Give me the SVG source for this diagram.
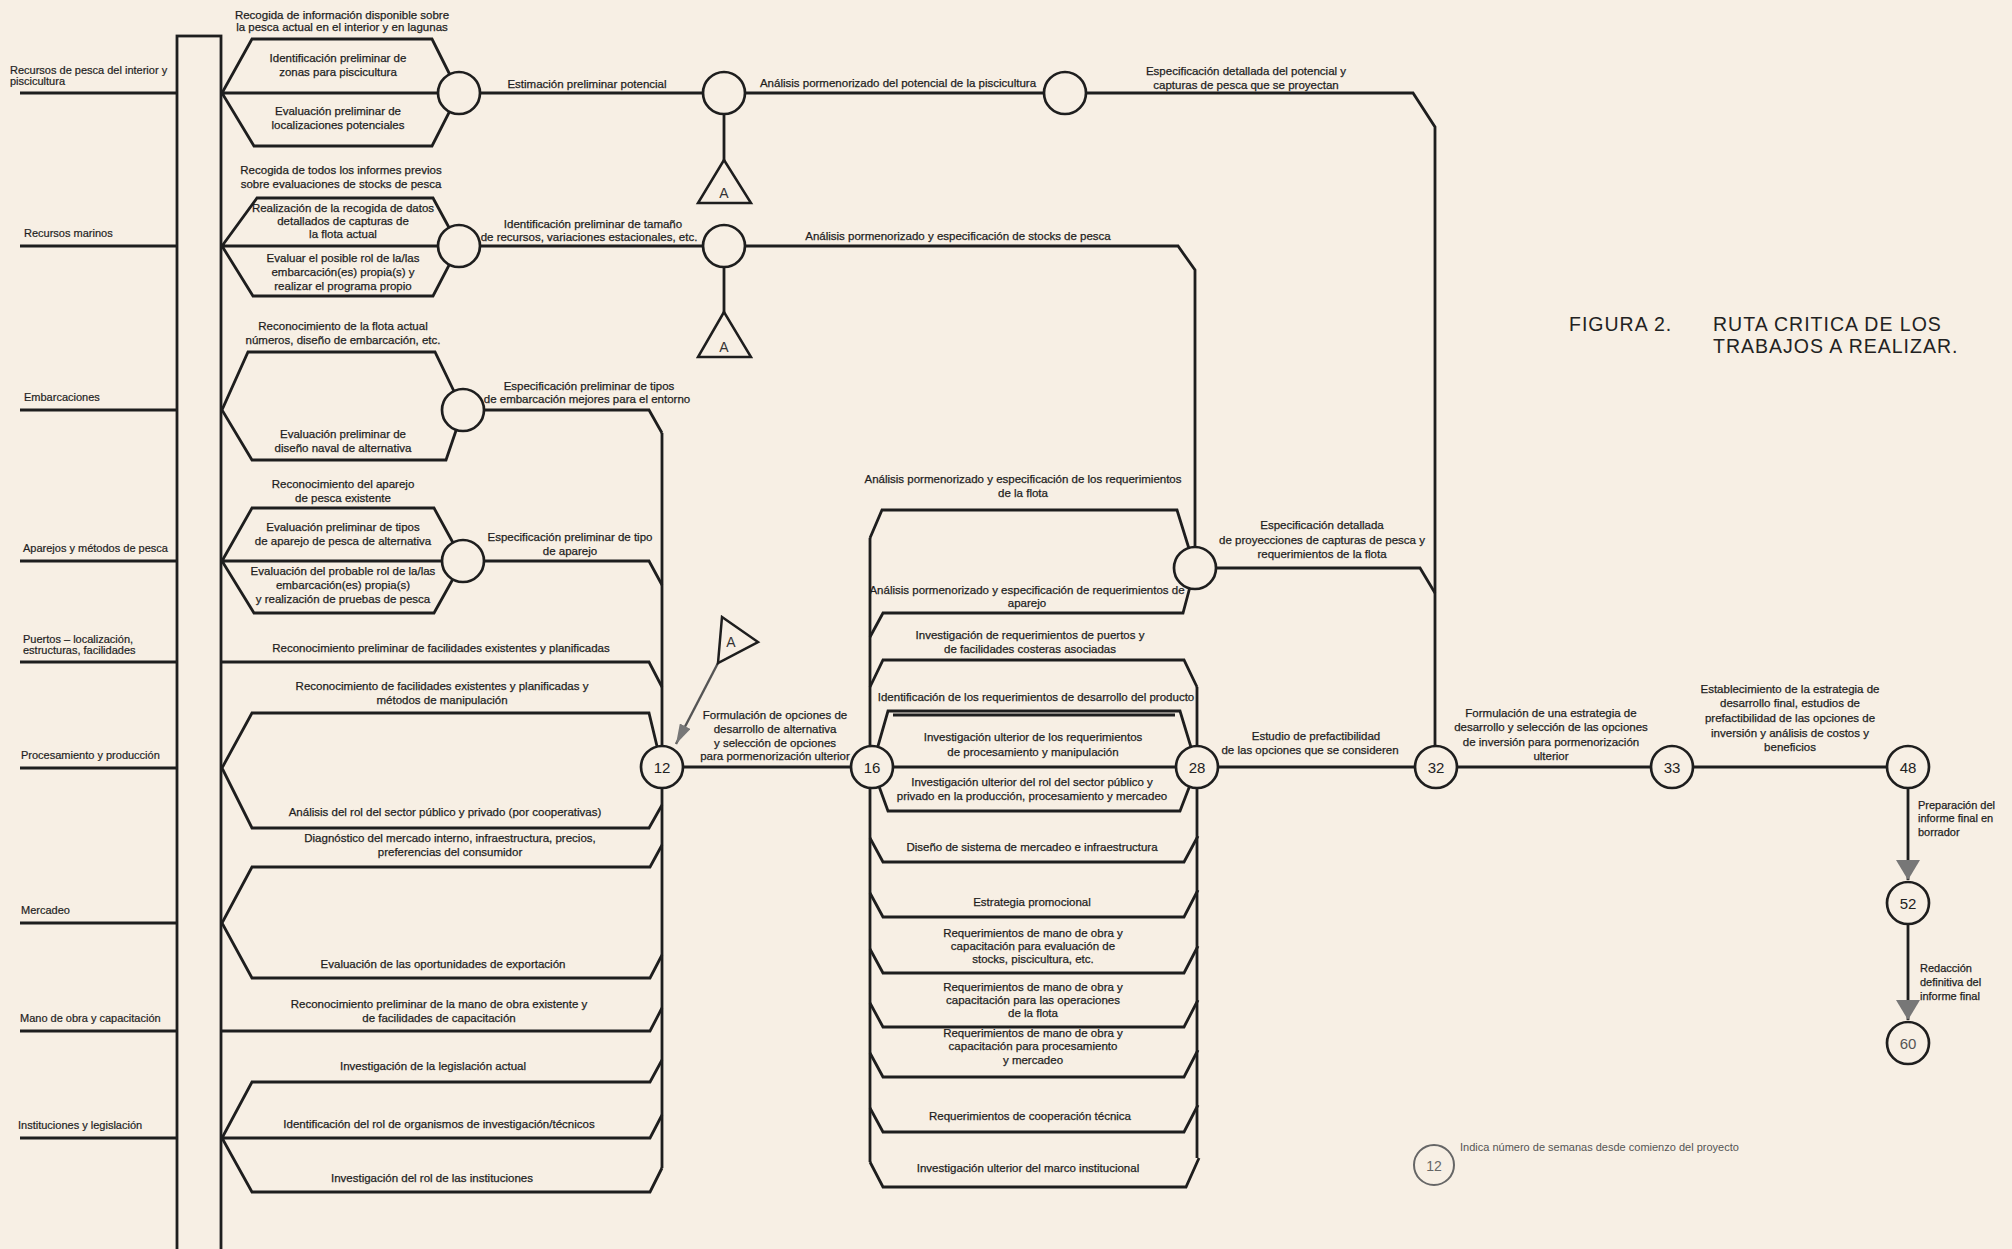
<svg xmlns="http://www.w3.org/2000/svg" width="2012" height="1249" viewBox="0 0 2012 1249">
<style>
.ln{fill:none;stroke:#1e1e1e;stroke-width:2.8;stroke-linejoin:miter}
.ev{fill:#f7efe4;stroke:#1e1e1e;stroke-width:2.7}
.tri{fill:#f7efe4;stroke:#1e1e1e;stroke-width:2.5}
.t{font-family:"Liberation Sans",Arial,sans-serif;font-size:11.5px;fill:#1e1e1e;stroke:#1e1e1e;stroke-width:0.25;text-anchor:middle}
.c{font-family:"Liberation Sans",Arial,sans-serif;font-size:11px;fill:#1e1e1e;stroke:#1e1e1e;stroke-width:0.2}
.s{font-family:"Liberation Sans",Arial,sans-serif;font-size:11px;fill:#1e1e1e;stroke:#1e1e1e;stroke-width:0.25}
.n{font-family:"Liberation Sans",Arial,sans-serif;font-size:15px;fill:#222;text-anchor:middle}
.a{font-family:"Liberation Sans",Arial,sans-serif;font-size:14px;fill:#333;text-anchor:middle}
.ttl{font-family:"Liberation Sans",Arial,sans-serif;font-size:19.5px;fill:#222;letter-spacing:1px}
.lg{font-family:"Liberation Sans",Arial,sans-serif;font-size:11px;fill:#555}
</style>
<defs>
<marker id="ah" markerUnits="userSpaceOnUse" viewBox="0 0 20 24" refX="20" refY="12" markerWidth="20" markerHeight="24" orient="auto"><path d="M0,0 L20,12 L0,24 Z" fill="#777"/></marker>
<marker id="ahs" markerUnits="userSpaceOnUse" viewBox="0 0 20 12" refX="20" refY="6" markerWidth="20" markerHeight="12" orient="auto"><path d="M0,0 L20,6 L0,12 Z" fill="#777"/></marker>
</defs>
<rect x="0" y="0" width="2012" height="1249" fill="#f7efe4"/>

<g id="connectors">
<path class="ln" d="M20,93 H177 M20,246 H177 M20,410 H177 M20,561 H177 M20,662 H177 M20,768 H177 M20,923 H177 M20,1031 H177 M20,1138 H177"/>
<path class="ln" d="M459,93 L432,39 L252,39 L222,93 L254,146 L432,146 Z M222,93 H459"/>
<path class="ln" d="M459,246 L433,198 L257,198 L222,246 L253,296 L433,296 Z M222,246 H459"/>
<path class="ln" d="M463,410 L435,352 L248,352 L222,410 L252,460 L446,460 Z"/>
<path class="ln" d="M463,561 L434,508 L252,508 L222,561 L254,613 L434,613 Z M222,561 H463"/>
<path class="ln" d="M222,662 H649 L662,687"/>
<path class="ln" d="M662,767 L649,713 L252,713 L222,768 L252,828 L649,828 L662,805"/>
<path class="ln" d="M662,845 L650,867 L252,867 L222,923 L252,978 L650,978 L662,955"/>
<path class="ln" d="M222,1031 H650 L662,1008"/>
<path class="ln" d="M662,1060 L650,1082 L252,1082 L222,1138 L252,1192 L650,1192 L662,1168 M222,1138 H650 L662,1115"/>
<path class="ln" d="M662,433 V1168"/>
<path class="ln" d="M463,410 H649 L662,433"/>
<path class="ln" d="M463,561 H649 L662,585"/>
<path class="ln" d="M459,93 H1413 L1435,127 V767"/>
<path class="ln" d="M459,246 H1178 L1195,270 V568"/>
<path class="ln" d="M724,93 V162 M724,246 V314"/>
<path class="ln" d="M1195,568 H1420 L1435,593"/>
<path class="ln" d="M662,767 H1908"/>
<path class="ln" d="M1908,788 V880" marker-end="url(#ah)"/>
<path class="ln" d="M1908,924 V1020" marker-end="url(#ah)"/>
<path d="M718,663 L676,744" fill="none" stroke="#555" stroke-width="2.4" marker-end="url(#ahs)"/>
<path class="ln" d="M870,538 V1162 M1197,687 V1158"/>
<path class="ln" d="M870,538 L882,510 H1177 L1195,568"/>
<path class="ln" d="M870,637 L883,613 H1183 L1195,568"/>
<path class="ln" d="M870,687 L883,660 H1184 L1197,687"/>
<path class="ln" d="M872,767 L888,711 H1180 L1197,767"/>
<path class="ln" d="M893,715 H1175" stroke-width="1.6"/>
<path class="ln" d="M872,767 L888,811 H1180 L1197,767"/>
<path class="ln" d="M870,838 L883,862 H1184 L1198,836"/>
<path class="ln" d="M870,893 L883,917 H1184 L1198,890"/>
<path class="ln" d="M870,949 L883,973 H1184 L1198,946"/>
<path class="ln" d="M870,1003 L883,1027 H1184 L1198,1000"/>
<path class="ln" d="M870,1053 L883,1077 H1184 L1198,1050"/>
<path class="ln" d="M870,1108 L883,1132 H1184 L1198,1105"/>
<path class="ln" d="M870,1162 L883,1187 H1186 L1199,1158"/>
</g>

<g id="bar"><rect x="177" y="36" width="44" height="1230" fill="none" stroke="#1e1e1e" stroke-width="2.8"/></g>

<g id="categories">
<text class="c" x="10" y="74">Recursos de pesca del interior y</text>
<text class="c" x="10" y="85">piscicultura</text>
<text class="c" x="24" y="237">Recursos marinos</text>
<text class="c" x="24" y="401">Embarcaciones</text>
<text class="c" x="23" y="552">Aparejos y métodos de pesca</text>
<text class="c" x="23" y="643">Puertos – localización,</text>
<text class="c" x="23" y="654">estructuras, facilidades</text>
<text class="c" x="21" y="759">Procesamiento y producción</text>
<text class="c" x="21" y="914">Mercadeo</text>
<text class="c" x="20" y="1022">Mano de obra y capacitación</text>
<text class="c" x="18" y="1129">Instituciones y legislación</text>
</g>

<g id="e1"><circle class="ev" cx="459" cy="93" r="21"/></g>
<g id="e2"><circle class="ev" cx="724" cy="93" r="21"/></g>
<g id="e3"><circle class="ev" cx="1065" cy="93" r="21"/></g>
<g id="e4"><circle class="ev" cx="459" cy="246" r="21"/></g>
<g id="e5"><circle class="ev" cx="724" cy="246" r="21"/></g>
<g id="e6"><circle class="ev" cx="463" cy="410" r="21"/></g>
<g id="e7"><circle class="ev" cx="463" cy="561" r="21"/></g>
<g id="e8"><circle class="ev" cx="1195" cy="568" r="21"/></g>
<g id="ta1"><polygon class="tri" points="724,160 698,203 751,203"/><text class="a" x="724" y="198">A</text></g>
<g id="ta2"><polygon class="tri" points="724,312 698,357 751,357"/><text class="a" x="724" y="352">A</text></g>
<g id="ta3"><polygon class="tri" points="722,617 758,642 718,663"/><text class="a" x="731" y="647">A</text></g>
<g id="n12"><circle class="ev" cx="662" cy="767" r="21"/><text class="n" x="662" y="773">12</text></g>
<g id="n16"><circle class="ev" cx="872" cy="767" r="21"/><text class="n" x="872" y="773">16</text></g>
<g id="n28"><circle class="ev" cx="1197" cy="767" r="21"/><text class="n" x="1197" y="773">28</text></g>
<g id="n32"><circle class="ev" cx="1436" cy="767" r="21"/><text class="n" x="1436" y="773">32</text></g>
<g id="n33"><circle class="ev" cx="1672" cy="767" r="21"/><text class="n" x="1672" y="773">33</text></g>
<g id="n48"><circle class="ev" cx="1908" cy="767" r="21"/><text class="n" x="1908" y="773">48</text></g>
<g id="n52"><circle class="ev" cx="1908" cy="903" r="21"/><text class="n" x="1908" y="909">52</text></g>
<g id="n60"><circle class="ev" cx="1908" cy="1043" r="21"/><text class="n" x="1908" y="1049" style="fill:#555">60</text></g>

<g id="labels">
<text class="t" x="342" y="19">Recogida de información disponible sobre</text>
<text class="t" x="342" y="31">la pesca actual en el interior y en lagunas</text>
<text class="t" x="338" y="62">Identificación preliminar de</text>
<text class="t" x="338" y="76">zonas para piscicultura</text>
<text class="t" x="338" y="115">Evaluación preliminar de</text>
<text class="t" x="338" y="129">localizaciones potenciales</text>
<text class="t" x="341" y="174">Recogida de todos los informes previos</text>
<text class="t" x="341" y="188">sobre evaluaciones de stocks de pesca</text>
<text class="t" x="343" y="212">Realización de la recogida de datos</text>
<text class="t" x="343" y="225">detallados de capturas de</text>
<text class="t" x="343" y="238">la flota actual</text>
<text class="t" x="343" y="262">Evaluar el posible rol de la/las</text>
<text class="t" x="343" y="276">embarcación(es) propia(s) y</text>
<text class="t" x="343" y="290">realizar el programa propio</text>
<text class="t" x="343" y="330">Reconocimiento de la flota actual</text>
<text class="t" x="343" y="344">números, diseño de embarcación, etc.</text>
<text class="t" x="343" y="438">Evaluación preliminar de</text>
<text class="t" x="343" y="452">diseño naval de alternativa</text>
<text class="t" x="343" y="488">Reconocimiento del aparejo</text>
<text class="t" x="343" y="502">de pesca existente</text>
<text class="t" x="343" y="531">Evaluación preliminar de tipos</text>
<text class="t" x="343" y="545">de aparejo de pesca de alternativa</text>
<text class="t" x="343" y="575">Evaluación del probable rol de la/las</text>
<text class="t" x="343" y="589">embarcación(es) propia(s)</text>
<text class="t" x="343" y="603">y realización de pruebas de pesca</text>
<text class="t" x="441" y="652">Reconocimiento preliminar de facilidades existentes y planificadas</text>
<text class="t" x="442" y="690">Reconocimiento de facilidades existentes y planificadas y</text>
<text class="t" x="442" y="704">métodos de manipulación</text>
<text class="t" x="445" y="816">Análisis del rol del sector público y privado (por cooperativas)</text>
<text class="t" x="450" y="842">Diagnóstico del mercado interno, infraestructura, precios,</text>
<text class="t" x="450" y="856">preferencias del consumidor</text>
<text class="t" x="443" y="968">Evaluación de las oportunidades de exportación</text>
<text class="t" x="439" y="1008">Reconocimiento preliminar de la mano de obra existente y</text>
<text class="t" x="439" y="1022">de facilidades de capacitación</text>
<text class="t" x="433" y="1070">Investigación de la legislación actual</text>
<text class="t" x="439" y="1128">Identificación del rol de organismos de investigación/técnicos</text>
<text class="t" x="432" y="1182">Investigación del rol de las instituciones</text>

<text class="t" x="587" y="88">Estimación preliminar potencial</text>
<text class="t" x="898" y="87">Análisis pormenorizado del potencial de la piscicultura</text>
<text class="t" x="1246" y="75">Especificación detallada del potencial y</text>
<text class="t" x="1246" y="89">capturas de pesca que se proyectan</text>
<text class="t" x="593" y="228">Identificación preliminar de tamaño</text>
<text class="t" x="589" y="241">de recursos, variaciones estacionales, etc.</text>
<text class="t" x="958" y="240">Análisis pormenorizado y especificación de stocks de pesca</text>
<text class="t" x="589" y="390">Especificación preliminar de tipos</text>
<text class="t" x="587" y="403">de embarcación mejores para el entorno</text>
<text class="t" x="570" y="541">Especificación preliminar de tipo</text>
<text class="t" x="570" y="555">de aparejo</text>
<text class="t" x="775" y="719">Formulación de opciones de</text>
<text class="t" x="775" y="733">desarrollo de alternativa</text>
<text class="t" x="775" y="747">y selección de opciones</text>
<text class="t" x="775" y="760">para pormenorización ulterior</text>

<text class="t" x="1023" y="483">Análisis pormenorizado y especificación de los requerimientos</text>
<text class="t" x="1023" y="497">de la flota</text>
<text class="t" x="1027" y="594">Análisis pormenorizado y especificación de requerimientos de</text>
<text class="t" x="1027" y="607">aparejo</text>
<text class="t" x="1030" y="639">Investigación de requerimientos de puertos y</text>
<text class="t" x="1030" y="653">de facilidades costeras asociadas</text>
<text class="t" x="1036" y="701">Identificación de los requerimientos de desarrollo del producto</text>
<text class="t" x="1033" y="741">Investigación ulterior de los requerimientos</text>
<text class="t" x="1033" y="756">de procesamiento y manipulación</text>
<text class="t" x="1032" y="786">Investigación ulterior del rol del sector público y</text>
<text class="t" x="1032" y="800">privado en la producción, procesamiento y mercadeo</text>
<text class="t" x="1032" y="851">Diseño de sistema de mercadeo e infraestructura</text>
<text class="t" x="1032" y="906">Estrategia promocional</text>
<text class="t" x="1033" y="937">Requerimientos de mano de obra y</text>
<text class="t" x="1033" y="950">capacitación para evaluación de</text>
<text class="t" x="1033" y="963">stocks, piscicultura, etc.</text>
<text class="t" x="1033" y="991">Requerimientos de mano de obra y</text>
<text class="t" x="1033" y="1004">capacitación para las operaciones</text>
<text class="t" x="1033" y="1017">de la flota</text>
<text class="t" x="1033" y="1037">Requerimientos de mano de obra y</text>
<text class="t" x="1033" y="1050">capacitación para procesamiento</text>
<text class="t" x="1033" y="1064">y mercadeo</text>
<text class="t" x="1030" y="1120">Requerimientos de cooperación técnica</text>
<text class="t" x="1028" y="1172">Investigación ulterior del marco institucional</text>

<text class="t" x="1322" y="529">Especificación detallada</text>
<text class="t" x="1322" y="544">de proyecciones de capturas de pesca y</text>
<text class="t" x="1322" y="558">requerimientos de la flota</text>
<text class="t" x="1316" y="740">Estudio de prefactibilidad</text>
<text class="t" x="1310" y="754">de las opciones que se consideren</text>
<text class="t" x="1551" y="717">Formulación de una estrategia de</text>
<text class="t" x="1551" y="731">desarrollo y selección de las opciones</text>
<text class="t" x="1551" y="746">de inversión para pormenorización</text>
<text class="t" x="1551" y="760">ulterior</text>
<text class="t" x="1790" y="693">Establecimiento de la estrategia de</text>
<text class="t" x="1790" y="707">desarrollo final, estudios de</text>
<text class="t" x="1790" y="722">prefactibilidad de las opciones de</text>
<text class="t" x="1790" y="737">inversión y análisis de costos y</text>
<text class="t" x="1790" y="751">beneficios</text>
<text class="s" x="1918" y="809">Preparación del</text>
<text class="s" x="1918" y="822">informe final en</text>
<text class="s" x="1918" y="836">borrador</text>
<text class="s" x="1920" y="972">Redacción</text>
<text class="s" x="1920" y="986">definitiva del</text>
<text class="s" x="1920" y="1000">informe final</text>
</g>

<g id="title">
<text class="ttl" x="1569" y="331">FIGURA 2.</text>
<text class="ttl" x="1713" y="331">RUTA CRITICA DE LOS</text>
<text class="ttl" x="1713" y="353">TRABAJOS A REALIZAR.</text>
</g>

<g id="legend">
<circle cx="1434" cy="1165" r="20" fill="#f7efe4" stroke="#666" stroke-width="2"/>
<text class="n" x="1434" y="1171" style="fill:#666;font-size:14px">12</text>
<text class="lg" x="1460" y="1151">Indica número de semanas desde comienzo del proyecto</text>
</g>
</svg>
